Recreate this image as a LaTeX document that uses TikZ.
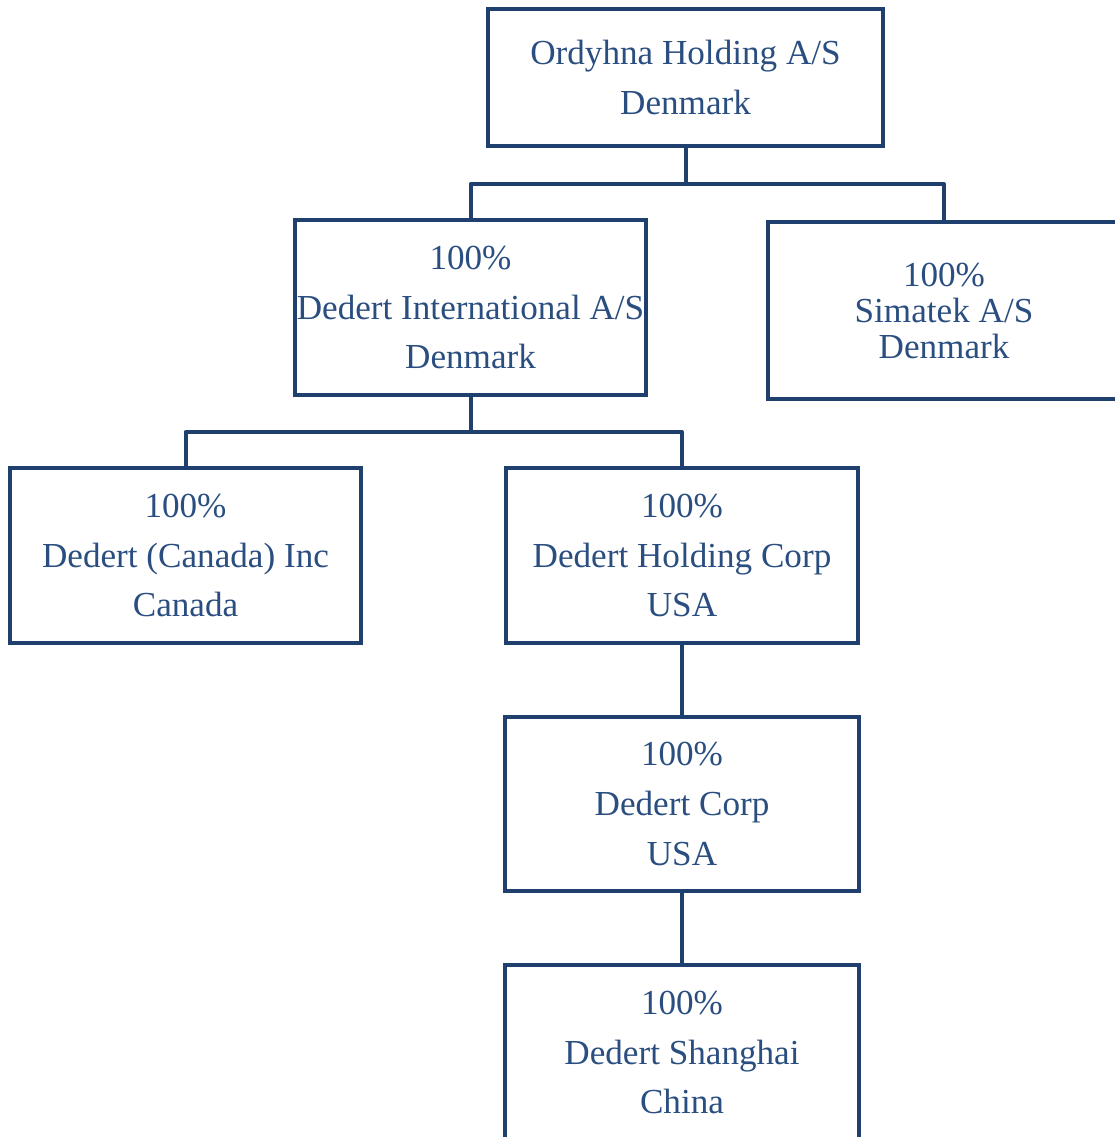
\documentclass[tikz,border=0pt]{standalone}
\usepackage{fontspec}
\setmainfont{Liberation Serif}
\usepackage{tikz}
\definecolor{boxblue}{HTML}{1F406E}
\definecolor{textblue}{HTML}{2A4E80}

\tikzset{
	company/.style={draw=boxblue, line width=0.08cm, align=center, inner sep=0pt,
		text=textblue, font=\fontsize{20}{28.4}\selectfont},
	link/.style={draw=boxblue, line width=0.08cm, line join=round}
}

\begin{document}
\begin{tikzpicture}[x=0.02cm,y=-0.02cm]
			\useasboundingbox (0,0) rectangle (1115,1137);
			\clip (0,0) rectangle (1115,1137);

			\node[company, minimum width=7.9cm, minimum height=2.74cm] (ordyhna) at (685.5,77.5) {Ordyhna Holding A/S\\Denmark};
			\node[company, minimum width=7.02cm, minimum height=3.5cm] (intl) at (470.5,307.5) {100\%\\Dedert International A/S\\Denmark};
			\node[company, minimum width=7.04cm, minimum height=3.54cm, font=\fontsize{20}{20.5}\selectfont] (simatek) at (944,310.5) {100\%\\Simatek A/S\\Denmark};
			\node[company, minimum width=7.02cm, minimum height=3.5cm] (canada) at (185.5,555.5) {100\%\\Dedert (Canada) Inc\\Canada};
			\node[company, minimum width=7.04cm, minimum height=3.5cm] (holding) at (682,555.5) {100\%\\Dedert Holding Corp\\USA};
			\node[company, minimum width=7.08cm, minimum height=3.48cm] (corp) at (682,804) {100\%\\Dedert Corp\\USA};
			\node[company, minimum width=7.08cm, minimum height=3.5cm] (shanghai) at (682,1052.5) {100\%\\Dedert Shanghai\\China};

			\coordinate (split1) at (685.5,184);
			\coordinate (split2) at (470.5,432);

			\draw[link] (ordyhna.south) -- (split1) -| (intl.north);
			\draw[link] (split1) -| (simatek.north);

			\draw[link] (intl.south) -- (split2) -| (canada.north);
			\draw[link] (split2) -| (holding.north);

			\draw[link] (holding) -- (corp);
			\draw[link] (corp) -- (shanghai);
		\end{tikzpicture}
\end{document}
